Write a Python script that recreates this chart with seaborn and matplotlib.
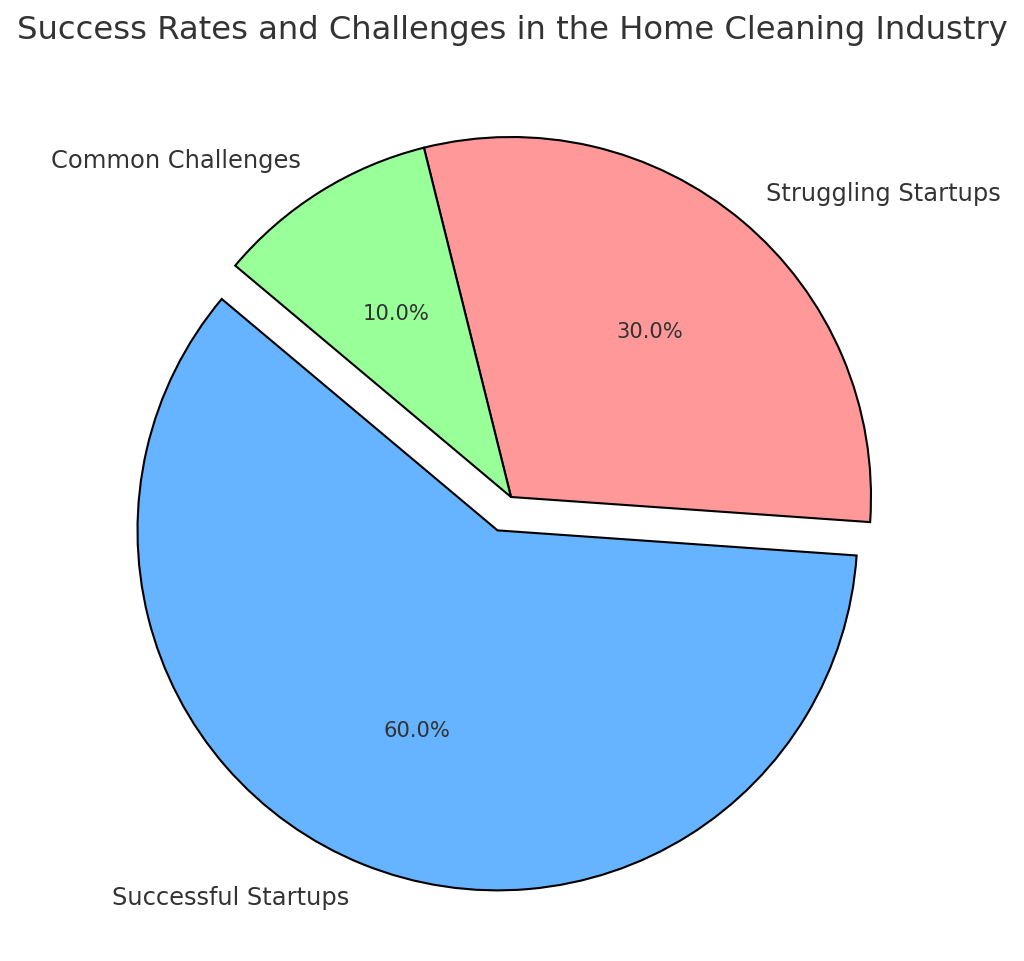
import matplotlib
matplotlib.use("Agg")
import matplotlib.pyplot as plt
import seaborn as sns

categories = ['Successful Startups', 'Struggling Startups', 'Common Challenges']
shares = [60, 30, 10]
colors = ['#66b3ff', '#ff9999', '#99ff99']
explode = [0.1, 0, 0]

sns.set_style('white')
plt.rcParams['font.family'] = ['DejaVu Sans']
text_col = '#333333'

fig = plt.figure(figsize=(10.24, 9.61), dpi=100)
ax = fig.add_axes([0, 0, 1, 1])

wedges, texts, autotexts = ax.pie(
    shares,
    labels=categories,
    colors=colors,
    explode=explode,
    startangle=140,
    autopct='%1.1f%%',
    wedgeprops={'edgecolor': 'black', 'linewidth': 1.5},
    textprops={'color': text_col, 'fontsize': 17.4},
)
for t in autotexts:
    t.set_fontsize(15.2)

# scale so radius ~360 px, centre at (511, 497) px from top
r_px = 360
ax.set_xlim(-511 / r_px, (1024 - 511) / r_px)
ax.set_ylim(-(961 - 497) / r_px, 497 / r_px)
ax.set_aspect('auto')
ax.axis('off')

fig.text(0.5, 1 - 30 / 961, 'Success Rates and Challenges in the Home Cleaning Industry',
         ha='center', va='center', fontsize=23.2, color=text_col)

fig.savefig('out.png', dpi=100)
